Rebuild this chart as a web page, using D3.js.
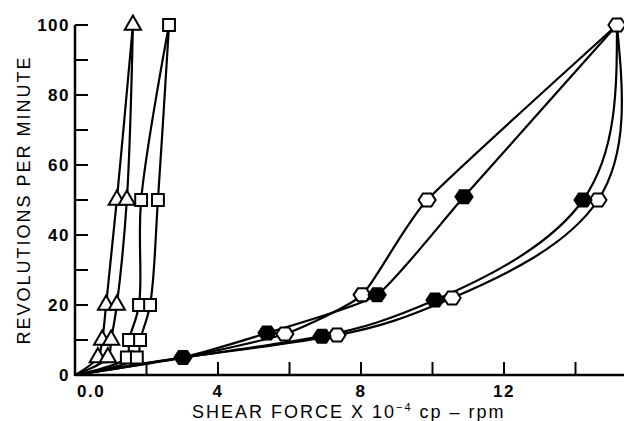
<!DOCTYPE html>
<html>
<head>
<meta charset="utf-8">
<script src="https://cdn.jsdelivr.net/npm/d3@7"></script>
<style>
body { margin: 0; background: #fff; }
svg { display: block; }
text { font-family: "Liberation Sans", Arial, Helvetica, sans-serif; fill: #000; }
</style>
</head>
<body>
<div id="chart"></div>
<script>
// curves start at the origin; [shear force x1e-4, rpm]
var triLeft = [[0, 0], [0.64, 5], [0.76, 10], [0.87, 20], [1.17, 50], [1.62, 100]];
var triRight = [[0, 0], [0.92, 5], [1.01, 10], [1.17, 20], [1.45, 50], [1.62, 100]];
var sqLeft = [[0, 0], [1.45, 5], [1.51, 10], [1.79, 20], [1.85, 50], [2.63, 100]];
var sqRight = [[0, 0], [1.73, 5], [1.82, 10], [2.10, 20], [2.32, 50], [2.63, 100]];

var openUp = [[0, 0], [3.02, 5], [5.87, 11.7], [8.03, 22.9], [9.85, 50], [15.16, 100]];
var openDown = [[0, 0], [3.02, 5], [7.33, 11.4], [10.55, 22], [14.63, 50], [15.16, 100]];
var filledUp = [[0, 0], [3.02, 5], [5.37, 12], [8.45, 22.9], [10.88, 50.9], [15.16, 100]];
var filledDown = [[0, 0], [3.02, 5], [6.91, 11.1], [10.07, 21.4], [14.21, 50], [15.16, 100]];

var xTicks = [2, 4, 6, 8, 10, 12, 14, 16];
var xTickLabels = {0: '0.0', 4: '4', 8: '8', 12: '12'};
var yTicks = [0, 10, 20, 30, 40, 50, 60, 70, 80, 90, 100];
var yTickLabels = [0, 20, 40, 60, 80, 100];

var width = 624, height = 421;

var x = d3.scaleLinear().domain([0, 16]).range([75, 75 + 35.75 * 16]);
var y = d3.scaleLinear().domain([0, 100]).range([375, 25]);

var svg = d3.select('#chart')
	.append('svg')
	.attr('width', width)
	.attr('height', height);

// axes
svg.append('line')
	.attr('x1', x(0)).attr('x2', width)
	.attr('y1', y(0)).attr('y2', y(0))
	.attr('stroke', '#000').attr('stroke-width', 2.5);
svg.append('line')
	.attr('x1', x(0)).attr('x2', x(0))
	.attr('y1', y(0) + 1).attr('y2', y(100))
	.attr('stroke', '#000').attr('stroke-width', 2.5);

svg.selectAll('.xtick').data(xTicks).enter()
	.append('line')
	.attr('x1', function(d) { return x(d); })
	.attr('x2', function(d) { return x(d); })
	.attr('y1', y(0)).attr('y2', y(0) - 13)
	.attr('stroke', '#000').attr('stroke-width', 2);

svg.selectAll('.ytick').data(yTicks).enter()
	.append('line')
	.attr('x1', x(0)).attr('x2', x(0) + 13)
	.attr('y1', function(d) { return y(d); })
	.attr('y2', function(d) { return y(d); })
	.attr('stroke', '#000').attr('stroke-width', 2);

svg.selectAll('.xlab').data([0, 4, 8, 12]).enter()
	.append('text')
	.attr('x', function(d) { return d == 0 ? x(d) + 2 : x(d); })
	.attr('y', 397)
	.attr('text-anchor', function(d) { return d == 0 ? 'start' : 'middle'; })
	.style('font-size', '17px')
	.style('font-weight', 'bold')
	.style('letter-spacing', '1.5px')
	.text(function(d) { return xTickLabels[d]; });

svg.selectAll('.ylab').data(yTickLabels).enter()
	.append('text')
	.attr('x', 70)
	.attr('y', function(d) { return y(d) + 6; })
	.attr('text-anchor', 'end')
	.style('font-size', '17px')
	.style('font-weight', 'bold')
	.style('letter-spacing', '1.5px')
	.text(function(d) { return d; });

svg.append('text')
	.attr('transform', 'translate(30,' + 200 + ') rotate(-90)')
	.attr('text-anchor', 'middle')
	.style('font-size', '18px')
	.style('letter-spacing', '2px')
	.text('REVOLUTIONS PER MINUTE');

var xl = svg.append('text')
	.attr('x', 192)
	.attr('y', 418)
	.style('font-size', '18px')
	.style('letter-spacing', '2px');
xl.append('tspan').text('SHEAR FORCE X 10');
xl.append('tspan').attr('dy', -7).style('font-size', '11px').text('\u22124');
xl.append('tspan').attr('dy', 7).text(' cp \u2013 rpm');

// curves
function line(curve) {
	return d3.line()
		.x(function(d) { return x(d[0]); })
		.y(function(d) { return y(d[1]); })
		.curve(curve);
}
var thin = line(d3.curveCatmullRom.alpha(0.5));
var rising = line(d3.curveCardinal.tension(0.5));
var falling = line(d3.curveNatural);

function draw(s, gen) {
	svg.append('path')
		.attr('d', gen(s))
		.attr('fill', 'none')
		.attr('stroke', '#000')
		.attr('stroke-width', 2.2);
}

[triLeft, triRight, sqLeft, sqRight].forEach(function(s) { draw(s, thin); });
[openUp, filledUp].forEach(function(s) { draw(s, rising); });
[openDown, filledDown].forEach(function(s) { draw(s, falling); });

// markers
function hexPath(r) {
	var p = [];
	for (var i = 0; i < 6; i++) {
		var a = Math.PI / 3 * i;
		p.push([r * Math.cos(a), r * 0.88 * Math.sin(a)]);
	}
	return 'M' + p.join('L') + 'Z';
}

function marks(points, path, fill) {
	svg.selectAll(null).data(points).enter()
		.append('path')
		.attr('transform', function(d) { return 'translate(' + x(d[0]) + ',' + y(d[1]) + ')'; })
		.attr('d', path)
		.attr('fill', fill)
		.attr('stroke', '#000')
		.attr('stroke-width', 2);
}

var tri = d3.symbol().type(d3.symbolTriangle).size(115)();
var sq = d3.symbol().type(d3.symbolSquare).size(140)();
var hex = hexPath(8.5);

marks(triLeft.slice(1), tri, '#fff');
marks(triRight.slice(1, -1), tri, '#fff');
marks(sqLeft.slice(1), sq, '#fff');
marks(sqRight.slice(1, -1), sq, '#fff');
marks(openUp.slice(2, -1), hex, '#fff');
marks(openDown.slice(2), hex, '#fff');
marks(filledUp.slice(1, -1), hex, '#000');
marks(filledDown.slice(2, -1), hex, '#000');
</script>
</body>
</html>
